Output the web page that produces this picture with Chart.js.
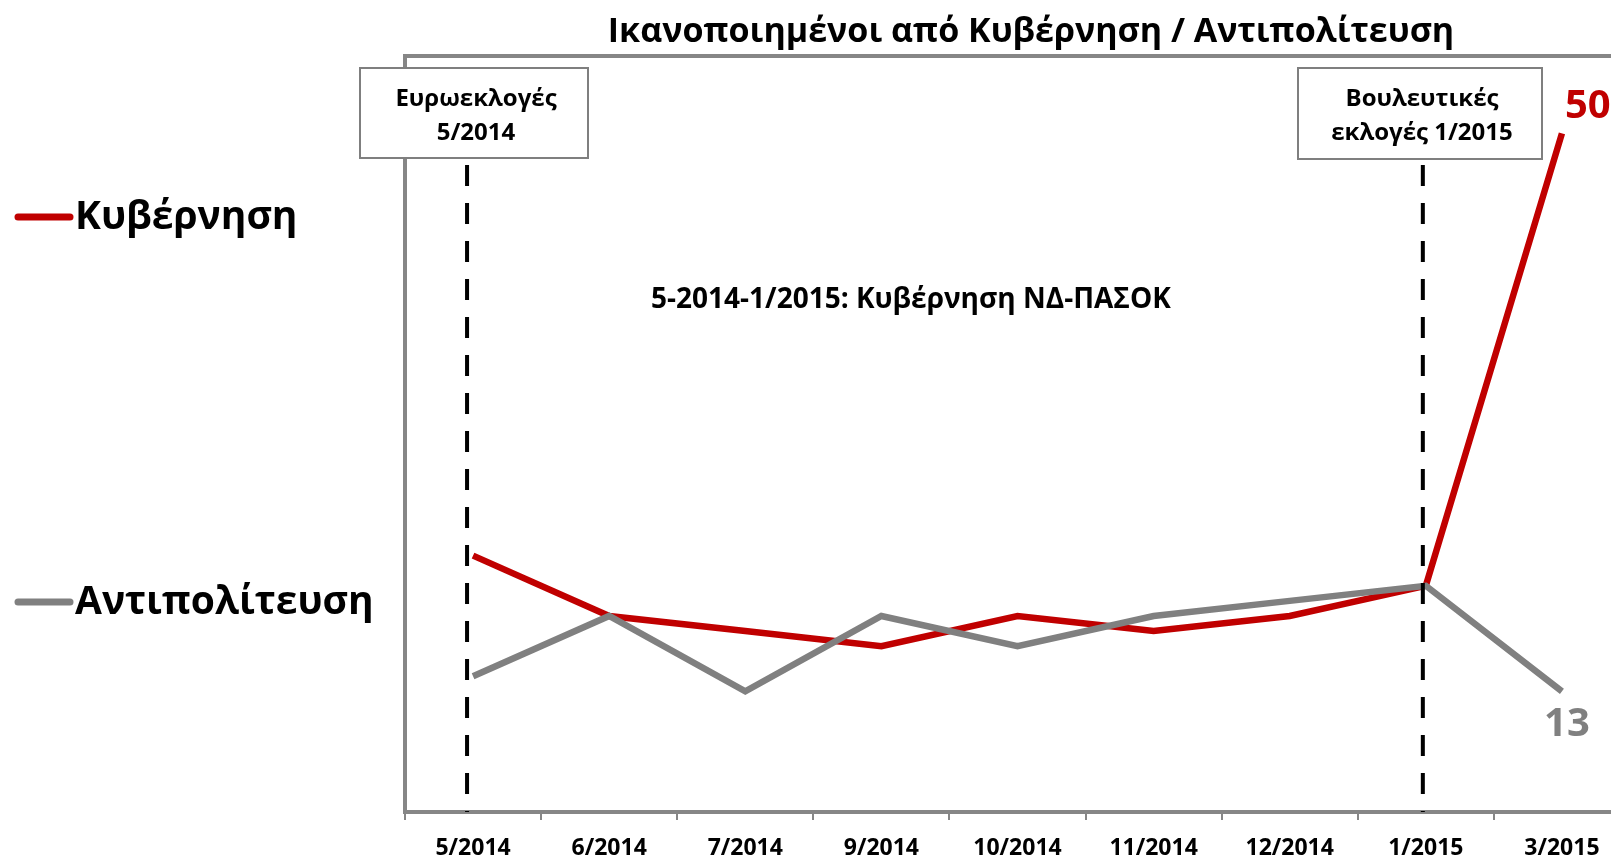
<!DOCTYPE html>
<html>
<head>
<meta charset="utf-8">
<script src="https://cdn.jsdelivr.net/npm/chart.js@4"></script>
<style>
    html, body { margin: 0; padding: 0; background: #fff; overflow: hidden; }
    #wrap { width: 1650px; height: 858px; }
</style>
</head>
<body>
<div id="wrap"><canvas id="graph0" width="1650" height="858"></canvas></div>
<script>
const months = ["5/2014", "6/2014", "7/2014", "9/2014", "10/2014", "11/2014", "12/2014", "1/2015", "3/2015"];
const government = [22, 18, 17, 16, 18, 17, 18, 20, 50];
const opposition = [14, 18, 13, 18, 16, 18, 19, 20, 13];
const seriesNames = ["Κυβέρνηση", "Αντιπολίτευση"];
const seriesColors = ["#c00000", "#808080"];

const titleText = "Ικανοποιημένοι από Κυβέρνηση / Αντιπολίτευση";
const noteText = "5-2014-1/2015: Κυβέρνηση ΝΔ-ΠΑΣΟΚ";
const electionMonths = ["5/2014", "1/2015"];
const electionLabels = [["Ευρωεκλογές", "5/2014"], ["Βουλευτικές", "εκλογές 1/2015"]];

const FONT = '"Open Sans", "Noto Sans", sans-serif';
const FRAME = "#868686";

function bold(size){
    return "bold " + size + "px " + FONT;
}

// frame, notes, legend, end values
const extras = {
    id: "extras",
    beforeDatasetsDraw(chart){
        const ctx = chart.ctx;
        const area = chart.chartArea;
        ctx.save();
        ctx.strokeStyle = FRAME;
        ctx.lineWidth = 4;
        ctx.beginPath();
        ctx.moveTo(area.left, area.bottom);
        ctx.lineTo(area.left, area.top - 2);
        ctx.lineTo(chart.width, area.top - 2);
        ctx.stroke();
        ctx.restore();
    },
    afterDatasetsDraw(chart){
        const ctx = chart.ctx;
        const area = chart.chartArea;
        const x = chart.scales.x;
        const y = chart.scales.y;
        ctx.save();

        // election markers
        ctx.strokeStyle = "#000";
        ctx.lineWidth = 4;
        ctx.setLineDash([21, 17]);
        electionMonths.forEach(function(m, i){
            const px = x.getPixelForValue(months.indexOf(m)) - (i === 0 ? 6 : 3);
            ctx.beginPath();
            ctx.moveTo(px, 165);
            ctx.lineTo(px, area.bottom);
            ctx.stroke();
        });
        ctx.setLineDash([]);

        const boxes = [[360, 68, 228, 90], [1298, 68, 244, 91]];
        ctx.font = bold(24);
        ctx.textAlign = "center";
        ctx.textBaseline = "middle";
        boxes.forEach(function(b, i){
            ctx.fillStyle = "#fff";
            ctx.fillRect(b[0], b[1], b[2], b[3]);
            ctx.strokeStyle = "#7f7f7f";
            ctx.lineWidth = 2;
            ctx.strokeRect(b[0], b[1], b[2], b[3]);
            ctx.fillStyle = "#000";
            ctx.fillText(electionLabels[i][0], b[0] + b[2] / 2 + 2, b[1] + 31);
            ctx.fillText(electionLabels[i][1], b[0] + b[2] / 2 + 2, b[1] + 65);
        });

        // title and note
        ctx.font = bold(34);
        ctx.textBaseline = "alphabetic";
        ctx.fillText(titleText, 1031, 42);
        ctx.font = bold(28);
        ctx.textAlign = "left";
        ctx.fillText(noteText, 651, 308);

        // legend on the left
        const legendY = [217, 602];
        seriesNames.forEach(function(name, i){
            ctx.strokeStyle = seriesColors[i];
            ctx.lineWidth = 7;
            ctx.lineCap = "round";
            ctx.beginPath();
            ctx.moveTo(18, legendY[i]);
            ctx.lineTo(70, legendY[i]);
            ctx.stroke();
            ctx.fillStyle = "#000";
            ctx.font = bold(39);
            ctx.textAlign = "left";
            ctx.fillText(name, 75, legendY[i] + 12);
        });

        // last values
        const last = months.length - 1;
        ctx.font = bold(40);
        ctx.fillStyle = seriesColors[0];
        ctx.textAlign = "left";
        ctx.fillText(government[last], x.getPixelForValue(last) + 3, y.getPixelForValue(government[last]) - 15);
        ctx.fillStyle = seriesColors[1];
        ctx.textAlign = "center";
        ctx.fillText(opposition[last], x.getPixelForValue(last) + 5, y.getPixelForValue(opposition[last]) + 45);

        ctx.restore();
    }
};

function main(){
    new Chart("graph0", {
        type: "line",
        data: {
            labels: months,
            datasets: [{
                label: seriesNames[0],
                data: government,
                borderColor: seriesColors[0],
                borderWidth: 6.5,
                pointRadius: 0,
                order: 1
            }, {
                label: seriesNames[1],
                data: opposition,
                borderColor: seriesColors[1],
                borderWidth: 6.5,
                pointRadius: 0,
                order: 0
            }]
        },
        options: {
            responsive: false,
            animation: false,
            devicePixelRatio: 1,
            layout: {padding: {left: 405, top: 58, right: 20, bottom: 0}},
            plugins: {
                legend: {display: false},
                title: {display: false},
                tooltip: {enabled: false}
            },
            scales: {
                x: {
                    offset: true,
                    afterFit: function(scale){ scale.height = 46; },
                    grid: {
                        offset: true,
                        drawOnChartArea: false,
                        drawTicks: true,
                        tickLength: 8,
                        color: FRAME,
                        lineWidth: 2
                    },
                    border: {display: true, color: FRAME, width: 4},
                    ticks: {
                        color: "#000",
                        padding: 15,
                        maxRotation: 0,
                        autoSkip: false,
                        font: {family: FONT, size: 23, weight: "bold"}
                    }
                },
                y: {
                    display: false,
                    min: 5,
                    max: 55
                }
            }
        },
        plugins: [extras]
    });
}

document.fonts.load(bold(20)).then(main, main);
</script>
</body>
</html>
